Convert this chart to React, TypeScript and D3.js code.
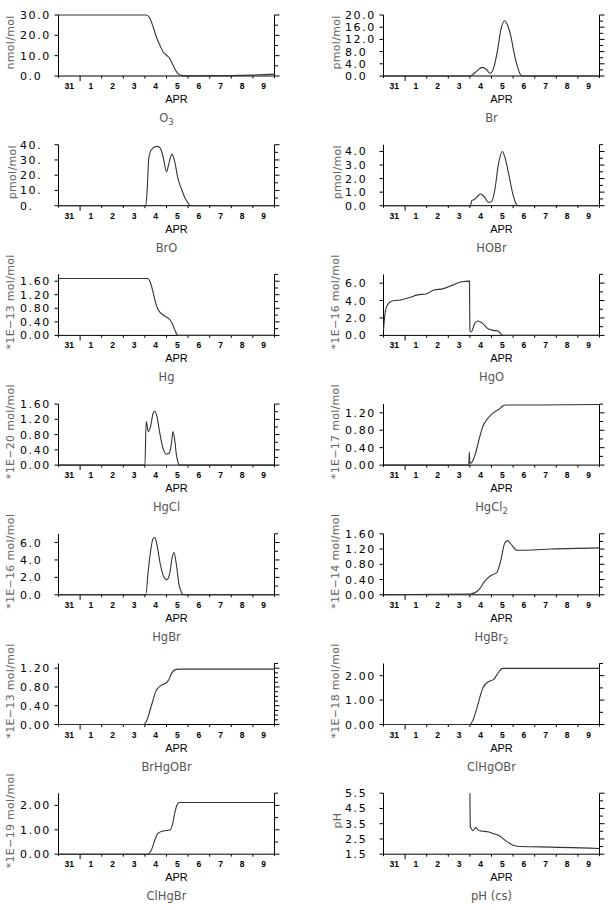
import React from 'react';
import * as d3 from 'd3';

// time axis: days since 31 March 00:00, ten days to 10 April
const dayLabels = ['31', '1', '2', '3', '4', '5', '6', '7', '8', '9'];

const o3Data: [number, number][] = [[0, 30], [4.07, 30], [4.23, 28.4], [4.38, 24.2], [4.53, 19.3], [4.69, 15.2], [4.84, 11.9], [5.0, 10.2], [5.15, 8.6], [5.23, 6.9], [5.38, 3.6], [5.53, 1.2], [5.69, 0.3], [5.84, 0.05], [8.0, 0.2], [9.0, 0.45], [10, 0.9]];
const brData: [number, number][] = [[0, 0], [4.03, 0], [4.1, 0.3], [4.33, 1.7], [4.58, 2.84], [4.78, 2.0], [4.93, 0.87], [5.12, 3.1], [5.28, 8.5], [5.43, 15.1], [5.61, 18.1], [5.74, 16.7], [5.9, 12.9], [6.05, 7.4], [6.2, 3.1], [6.36, 0.3], [6.45, 0], [10, 0]];
const broData: [number, number][] = [[0, 0], [4.04, 0], [4.1, 8.9], [4.18, 31], [4.3, 36.7], [4.53, 38.9], [4.69, 38.2], [4.84, 32.2], [5.0, 22.2], [5.1, 27], [5.25, 33.8], [5.38, 28.9], [5.53, 17.8], [5.69, 11.1], [5.84, 5.6], [6.0, 1.8], [6.1, 0], [10, 0]];
const hobrData: [number, number][] = [[0, 0], [4.03, 0], [4.08, 0.37], [4.19, 0.44], [4.5, 0.86], [4.65, 0.69], [4.85, 0.25], [5.0, 0.3], [5.16, 1.23], [5.31, 2.96], [5.5, 4.0], [5.62, 3.58], [5.81, 2.22], [5.97, 0.99], [6.12, 0.2], [6.23, 0], [10, 0]];
const hgData: [number, number][] = [[0, 1.68], [4.12, 1.68], [4.23, 1.6], [4.35, 1.35], [4.46, 1.05], [4.58, 0.8], [4.72, 0.67], [4.92, 0.57], [5.1, 0.5], [5.25, 0.37], [5.38, 0.17], [5.49, 0.02], [5.53, 0], [10, 0]];
const hgoData: [number, number][] = [[0, 0.58], [0.05, 2.1], [0.14, 3.3], [0.29, 3.8], [0.5, 4.0], [0.81, 4.06], [1.2, 4.34], [1.58, 4.65], [1.97, 4.76], [2.36, 5.23], [2.74, 5.34], [3.21, 5.77], [3.6, 6.15], [3.98, 6.23], [4.0, 0.58], [4.06, 0.39], [4.22, 1.35], [4.37, 1.66], [4.6, 1.35], [4.84, 0.77], [5.07, 0.58], [5.3, 0.5], [5.46, 0.12], [5.53, 0], [10, 0]];
const hgclData: [number, number][] = [[0, 0], [4.0, 0], [4.06, 1.14], [4.16, 0.88], [4.26, 1.01], [4.38, 1.36], [4.46, 1.42], [4.56, 1.27], [4.69, 0.84], [4.84, 0.44], [5.0, 0.29], [5.12, 0.31], [5.23, 0.57], [5.3, 0.88], [5.38, 0.66], [5.46, 0.26], [5.56, 0.03], [5.6, 0], [10, 0]];
const hgcl2Data: [number, number][] = [[0, 0], [3.95, 0], [3.97, 0.3], [4.0, 0.04], [4.11, 0.08], [4.26, 0.27], [4.42, 0.58], [4.57, 0.85], [4.81, 1.06], [5.04, 1.18], [5.27, 1.26], [5.35, 1.28], [5.5, 1.35], [5.66, 1.38], [7.2, 1.38], [10, 1.39]];
const hgbrData: [number, number][] = [[0, 0], [4.04, 0], [4.15, 2.66], [4.26, 4.94], [4.38, 6.46], [4.46, 6.57], [4.56, 5.7], [4.72, 3.42], [4.87, 2.09], [5.0, 1.71], [5.15, 2.47], [5.27, 4.37], [5.35, 4.86], [5.46, 3.42], [5.58, 1.14], [5.69, 0.3], [5.79, 0], [10, 0]];
const hgbr2Data: [number, number][] = [[0, 0], [4.03, 0.02], [4.4, 0.12], [4.68, 0.35], [4.96, 0.5], [5.24, 0.58], [5.43, 0.9], [5.61, 1.35], [5.75, 1.42], [5.94, 1.3], [6.17, 1.17], [6.59, 1.17], [7.75, 1.2], [10, 1.23]];
const brhgobrData: [number, number][] = [[0, 0], [3.95, 0], [4.1, 0.1], [4.3, 0.4], [4.5, 0.7], [4.7, 0.82], [4.95, 0.88], [5.1, 0.95], [5.25, 1.1], [5.4, 1.17], [5.55, 1.18], [10, 1.18]];
const clhgobrData: [number, number][] = [[0, 0], [4.0, 0], [4.15, 0.2], [4.3, 0.6], [4.6, 1.5], [4.85, 1.75], [5.1, 1.85], [5.3, 2.1], [5.5, 2.3], [10, 2.3]];
const clhgbrData: [number, number][] = [[0, 0], [4.14, 0], [4.3, 0.17], [4.46, 0.58], [4.61, 0.86], [4.84, 0.95], [5.15, 0.99], [5.27, 1.2], [5.38, 1.68], [5.49, 2.03], [5.6, 2.12], [10, 2.12]];
const phData: [number, number][] = [[4.0, 5.5], [4.02, 3.3], [4.06, 3.19], [4.14, 3.04], [4.27, 3.24], [4.38, 3.08], [4.53, 3.02], [4.84, 2.97], [5.07, 2.86], [5.38, 2.69], [5.62, 2.42], [5.85, 2.2], [6.08, 2.05], [6.31, 2.0], [7.24, 1.98], [10, 1.87]];

// y tick labels
const o3Ticks = ['0.0', '10.0', '20.0', '30.0'];
const brTicks = ['0.0', '4.0', '8.0', '12.0', '16.0', '20.0'];
const broTicks = ['0.', '10.', '20.', '30.', '40.'];
const hobrTicks = ['0.0', '1.0', '2.0', '3.0', '4.0'];
const hgTicks = ['0.00', '0.40', '0.80', '1.20', '1.60'];
const hgoTicks = ['0.0', '2.0', '4.0', '6.0'];
const hgclTicks = ['0.00', '0.40', '0.80', '1.20', '1.60'];
const hgcl2Ticks = ['0.00', '0.40', '0.80', '1.20'];
const hgbrTicks = ['0.0', '2.0', '4.0', '6.0'];
const hgbr2Ticks = ['0.00', '0.40', '0.80', '1.20', '1.60'];
const brhgobrTicks = ['0.00', '0.40', '0.80', '1.20'];
const clhgobrTicks = ['0.00', '1.00', '2.00'];
const clhgbrTicks = ['0.00', '1.00', '2.00'];
const phTicks = ['1.5', '2.5', '3.5', '4.5', '5.5'];

const panels = [
  { name: 'O', sub: '3', unit: 'nmol/mol', data: o3Data, ticks: o3Ticks, domain: [0, 30], step: 5, labX: -48 },
  { name: 'Br', sub: '', unit: 'pmol/mol', data: brData, ticks: brTicks, domain: [0, 20], step: 2, labX: -47.5 },
  { name: 'BrO', sub: '', unit: 'pmol/mol', data: broData, ticks: broTicks, domain: [0, 40], step: 5, labX: -46 },
  { name: 'HOBr', sub: '', unit: 'pmol/mol', data: hobrData, ticks: hobrTicks, domain: [0, 4.5], step: 0.5, labX: -46 },
  { name: 'Hg', sub: '', unit: '*1E−13 mol/mol', data: hgData, ticks: hgTicks, domain: [0, 1.8], step: 0.2, labX: -48.5 },
  { name: 'HgO', sub: '', unit: '*1E−16 mol/mol', data: hgoData, ticks: hgoTicks, domain: [0, 7], step: 1, labX: -48.5 },
  { name: 'HgCl', sub: '', unit: '*1E−20 mol/mol', data: hgclData, ticks: hgclTicks, domain: [0, 1.6], step: 0.2, labX: -48.5 },
  { name: 'HgCl', sub: '2', unit: '*1E−17 mol/mol', data: hgcl2Data, ticks: hgcl2Ticks, domain: [0, 1.4], step: 0.2, labX: -48.5 },
  { name: 'HgBr', sub: '', unit: '*1E−16 mol/mol', data: hgbrData, ticks: hgbrTicks, domain: [0, 7], step: 1, labX: -48.5 },
  { name: 'HgBr', sub: '2', unit: '*1E−14 mol/mol', data: hgbr2Data, ticks: hgbr2Ticks, domain: [0, 1.6], step: 0.2, labX: -48.5 },
  { name: 'BrHgOBr', sub: '', unit: '*1E−13 mol/mol', data: brhgobrData, ticks: brhgobrTicks, domain: [0, 1.3], step: 0.1, labX: -48.5 },
  { name: 'ClHgOBr', sub: '', unit: '*1E−18 mol/mol', data: clhgobrData, ticks: clhgobrTicks, domain: [0, 2.5], step: 0.5, labX: -48.5 },
  { name: 'ClHgBr', sub: '', unit: '*1E−19 mol/mol', data: clhgbrData, ticks: clhgbrTicks, domain: [0, 2.5], step: 0.5, labX: -48.5 },
  { name: 'pH (cs)', sub: '', unit: 'pH', data: phData, ticks: phTicks, domain: [1.5, 5.5], step: 0.5, labX: -46 },
];

const plotW = 216, plotH = 61;
const colLeft = [58.5, 383.5];
const rowTop = (r: number) => 15 + r * 129.7;

const labelFont = '"DejaVu Sans", sans-serif';

function Panel({ p, i }: { p: any; i: number }) {
  const left = colLeft[i % 2];
  const top = rowTop(Math.floor(i / 2));
  const right = left + plotW;
  const bottom = top + plotH;
  const cx = (left + right) / 2;

  const x = d3.scaleLinear().domain([0, 10]).range([left, right]);
  const y = d3.scaleLinear().domain(p.domain).range([bottom, top]);
  const line = d3.line<[number, number]>()
    .x(d => x(d[0]))
    .y(d => y(d[1]))
    .curve(d3.curveMonotoneX);

  const majors = p.ticks.map((t: string) => parseFloat(t));
  const minors = d3.range(p.domain[0], p.domain[1] + p.step / 2, p.step);
  const isMajor = (v: number) => majors.some((m: number) => Math.abs(m - v) < 1e-6);

  return (
    <g>
      {/* frame */}
      <line x1={left} y1={top} x2={left} y2={bottom + 2} stroke="#000" />
      <line x1={right} y1={top} x2={right} y2={bottom + 2} stroke="#000" />
      <line x1={left} y1={bottom} x2={right} y2={bottom} stroke="#000" />

      {/* left ticks + labels */}
      {majors.map((v: number, k: number) => (
        <g key={'l' + k}>
          <line x1={left - 4} x2={left} y1={y(v)} y2={y(v)} stroke="#000" />
          <text x={left - 38.5} y={y(v) + 4} fontFamily={labelFont} fontSize={11}
            letterSpacing={1.6} fill="#000">{p.ticks[k]}</text>
        </g>
      ))}

      {/* right ticks */}
      {minors.map((v: number, k: number) => (
        <line key={'r' + k} x1={right} x2={right + (isMajor(v) ? 5 : 3.5)} y1={y(v)} y2={y(v)} stroke="#000" />
      ))}

      {/* x ticks */}
      {d3.range(1, 10).map(t => (
        <line key={'x' + t} x1={x(t)} x2={x(t)} y1={bottom} y2={bottom + (t === 1 ? 5 : 2.5)} stroke="#000" />
      ))}
      {dayLabels.map((d, k) => (
        <text key={'d' + k} x={x(k + 0.5)} y={bottom + 13} textAnchor="middle"
          fontFamily="Arial, 'Liberation Sans', sans-serif" fontWeight="bold" fontSize={8.5}>{d}</text>
      ))}
      <text x={cx + 10} y={bottom + 27} textAnchor="middle"
        fontFamily="Arial, 'Liberation Sans', sans-serif" fontSize={11}>APR</text>

      {/* title */}
      <text x={cx} y={bottom + 46} textAnchor="middle" fontFamily={labelFont} fontSize={11.5} fill="#555">
        {p.name}
        {p.sub && <tspan fontSize={8.5} dy={3}>{p.sub}</tspan>}
      </text>

      {/* y unit label */}
      <text transform={`translate(${left + p.labX},${(top + bottom) / 2 - 3}) rotate(-90)`}
        textAnchor="middle" dominantBaseline="central" fontFamily={labelFont} fontSize={11}
        letterSpacing={0.3} fill="#666">{p.unit}</text>

      <path d={line(p.data) || ''} fill="none" stroke="#333" strokeWidth={1.1} />
    </g>
  );
}

export default function App() {
  return (
    <svg width={614} height={910} style={{ position: 'absolute', left: 0, top: 0, background: '#fff' }}>
      <rect width={614} height={910} fill="#fff" />
      {panels.map((p, i) => <Panel key={i} p={p} i={i} />)}
    </svg>
  );
}
